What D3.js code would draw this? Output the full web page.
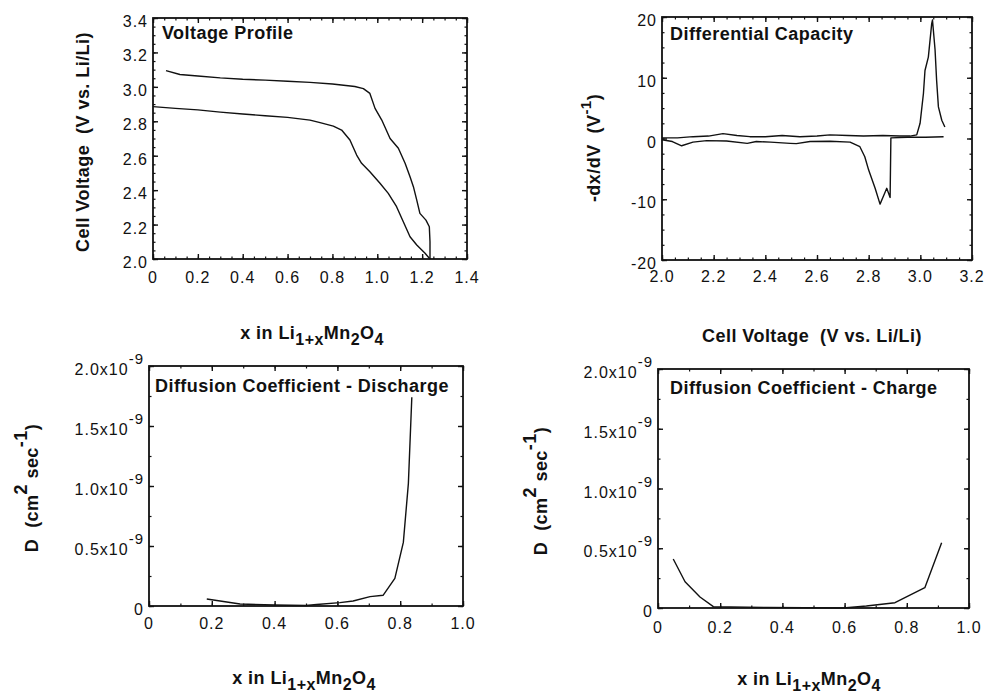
<!DOCTYPE html>
<html lang="en">
<head>
<meta charset="UTF-8">
<title>Li1+xMn2O4 - voltage, dx/dV and diffusion</title>
<script src="https://cdn.jsdelivr.net/npm/d3@7"></script>
<style>
    body { margin: 0; background: #fff; }
    svg { display: block; font-family: "Liberation Sans", Arial, Helvetica, sans-serif; }
    .tick-label { font-size: 16px; fill: #111; letter-spacing: 1px; }
    .panel-title, .axis-label { font-size: 18px; font-weight: bold; fill: #111; white-space: pre; letter-spacing: 0.45px; }
</style>
</head>
<body>
<svg id="chart" width="985" height="698"></svg>
<script>
// --- Voltage profile (V vs x) ---
const vpChargeX = [0.058, 0.12, 0.2, 0.3, 0.4, 0.5, 0.6, 0.7, 0.8, 0.9, 0.938, 0.967, 0.99, 1.02, 1.057, 1.094, 1.124, 1.146, 1.161, 1.176, 1.19, 1.217, 1.232, 1.235, 1.235];
const vpChargeV = [3.094, 3.072, 3.063, 3.052, 3.044, 3.039, 3.033, 3.026, 3.017, 3.002, 2.99, 2.962, 2.875, 2.807, 2.70, 2.643, 2.556, 2.478, 2.42, 2.342, 2.265, 2.226, 2.187, 2.10, 2.0];
const vpDischargeX = [0, 0.1, 0.2, 0.3, 0.4, 0.5, 0.6, 0.7, 0.745, 0.804, 0.841, 0.878, 0.908, 0.93, 0.967, 1.012, 1.049, 1.086, 1.116, 1.146, 1.176, 1.213, 1.235];
const vpDischargeV = [2.885, 2.875, 2.866, 2.853, 2.842, 2.832, 2.823, 2.807, 2.792, 2.772, 2.749, 2.691, 2.604, 2.556, 2.507, 2.44, 2.381, 2.304, 2.216, 2.129, 2.081, 2.033, 2.0];

// --- Differential capacity (-dx/dV vs V) ---
const dcChargeV = [2.0, 2.06, 2.12, 2.18, 2.236, 2.29, 2.34, 2.40, 2.465, 2.534, 2.60, 2.65, 2.72, 2.78, 2.855, 2.92, 2.96, 2.986, 2.999, 3.012, 3.018, 3.031, 3.044, 3.047, 3.057, 3.063, 3.07, 3.083, 3.095];
const dcChargeY = [0.1, 0.1, 0.3, 0.4, 0.8, 0.5, 0.3, 0.3, 0.5, 0.3, 0.4, 0.6, 0.5, 0.4, 0.5, 0.4, 0.4, 0.6, 2.5, 7.4, 11.2, 13.4, 18.9, 19.5, 14.6, 9.6, 5.2, 3.0, 1.9];
const dcDischargeV = [2.0, 2.04, 2.076, 2.12, 2.173, 2.25, 2.33, 2.365, 2.42, 2.496, 2.52, 2.573, 2.65, 2.728, 2.766, 2.785, 2.80, 2.825, 2.844, 2.857, 2.87, 2.883, 2.886, 2.95, 3.02, 3.09];
const dcDischargeY = [-0.2, -0.5, -1.2, -0.6, -0.35, -0.4, -0.8, -0.5, -0.6, -0.8, -0.85, -0.5, -0.45, -0.6, -1.35, -3.0, -5.2, -8.2, -10.8, -9.5, -8.2, -9.7, 0.1, 0.2, 0.2, 0.3];

// --- Diffusion coefficient, units of 1e-9 cm2/s ---
const dDischargeX = [0.184, 0.29, 0.4, 0.5, 0.534, 0.608, 0.65, 0.704, 0.746, 0.783, 0.81, 0.826, 0.837];
const dDischargeD = [0.058, 0.017, 0.008, 0.004, 0.012, 0.028, 0.042, 0.078, 0.09, 0.23, 0.53, 1.02, 1.74];
const dChargeX = [0.049, 0.087, 0.135, 0.178, 0.35, 0.596, 0.67, 0.762, 0.858, 0.912];
const dChargeD = [0.41, 0.22, 0.092, 0.011, 0.005, 0.0, 0.017, 0.044, 0.17, 0.546];

// --- tick values / labels ---
const vpXTicks = [0, 0.2, 0.4, 0.6, 0.8, 1.0, 1.2, 1.4];
const vpXLabels = ['0', '0.2', '0.4', '0.6', '0.8', '1.0', '1.2', '1.4'];
const vpYTicks = [2.0, 2.2, 2.4, 2.6, 2.8, 3.0, 3.2, 3.4];
const vpYLabels = ['2.0', '2.2', '2.4', '2.6', '2.8', '3.0', '3.2', '3.4'];
const dcXTicks = [2.0, 2.2, 2.4, 2.6, 2.8, 3.0, 3.2];
const dcXLabels = ['2.0', '2.2', '2.4', '2.6', '2.8', '3.0', '3.2'];
const dcYTicks = [-20, -10, 0, 10, 20];
const dcYLabels = ['-20', '-10', '0', '10', '20'];
const dXTicks = [0, 0.2, 0.4, 0.6, 0.8, 1.0];
const dXLabels = ['0', '0.2', '0.4', '0.6', '0.8', '1.0'];
const dYTicks = [0, 0.5, 1.0, 1.5, 2.0];
const dYLabels = ['0', '0.5x10', '1.0x10', '1.5x10', '2.0x10'];
const dYExp = ['', '-9', '-9', '-9', '-9'];

const svg = d3.select('#chart');

// one boxed panel: frame, inward ticks on all sides, tick labels, curves
function drawPanel(cfg) {
    const g = svg.append('g')
        .attr('transform', `translate(${cfg.left},${cfg.top})`);

    const x = d3.scaleLinear().domain(cfg.xDomain).range([0, cfg.width]);
    const y = d3.scaleLinear().domain(cfg.yDomain).range([cfg.height, 0]);

    const xMinor = d3.range(cfg.xDomain[0], cfg.xDomain[1] + 1e-9, cfg.xMinor);
    const yMinor = d3.range(cfg.yDomain[0], cfg.yDomain[1] + 1e-9, cfg.yMinor);

    const tickSets = [
        { axis: d3.axisBottom(x), pos: `translate(0,${cfg.height})`, minor: xMinor, major: cfg.xTicks },
        { axis: d3.axisTop(x), pos: 'translate(0,0)', minor: xMinor, major: cfg.xTicks },
        { axis: d3.axisLeft(y), pos: 'translate(0,0)', minor: yMinor, major: cfg.yTicks },
        { axis: d3.axisRight(y), pos: `translate(${cfg.width},0)`, minor: yMinor, major: cfg.yTicks }
    ];
    tickSets.forEach(t => {
        g.append('g').attr('transform', t.pos)
            .call(t.axis.tickValues(t.minor).tickSize(-2.5).tickFormat(''))
            .call(a => a.select('.domain').remove())
            .selectAll('line').attr('stroke', '#111').attr('stroke-width', 1.2);
        g.append('g').attr('transform', t.pos)
            .call(t.axis.tickValues(t.major).tickSize(-5).tickFormat(''))
            .call(a => a.select('.domain').remove())
            .selectAll('line').attr('stroke', '#111').attr('stroke-width', 1.4);
    });

    // frame
    g.append('rect')
        .attr('width', cfg.width)
        .attr('height', cfg.height)
        .attr('fill', 'none')
        .attr('stroke', '#111')
        .attr('stroke-width', 1.8);

    // x tick labels
    g.selectAll('.x-label')
        .data(cfg.xTicks)
        .enter()
        .append('text')
        .attr('class', 'tick-label')
        .attr('x', d => x(d))
        .attr('y', cfg.height + cfg.xLabelGap)
        .attr('text-anchor', 'middle')
        .text((d, i) => cfg.xLabels[i]);

    // y tick labels (with optional exponent)
    g.selectAll('.y-label')
        .data(cfg.yTicks)
        .enter()
        .append('text')
        .attr('class', 'tick-label')
        .attr('x', -cfg.yLabelGap)
        .attr('y', d => y(d) + 9)
        .attr('text-anchor', 'end')
        .each(function(d, i) {
            const t = d3.select(this);
            t.append('tspan').text(cfg.yLabels[i]);
            if (cfg.yExp && cfg.yExp[i]) {
                t.append('tspan').attr('dy', -11).attr('font-size', 15).text(cfg.yExp[i]);
            }
        });

    // curves
    const line = d3.line().x(d => x(d[0])).y(d => y(d[1]));
    cfg.series.forEach(s => {
        g.append('path')
            .datum(s[0].map((v, i) => [v, s[1][i]]))
            .attr('d', line)
            .attr('fill', 'none')
            .attr('stroke', '#111')
            .attr('stroke-width', 1.4)
            .attr('stroke-linejoin', 'round');
    });

    // title inside the box
    g.append('text')
        .attr('class', 'panel-title')
        .attr('x', cfg.titleX)
        .attr('y', cfg.titleY)
        .text(cfg.title);

    return g;
}

// text built from [string, shift, size] parts; shift >0 is subscript, <0 superscript
function richText(parent, parts, attrs) {
    const t = parent.append('text').attr('class', 'axis-label');
    Object.entries(attrs).forEach(([k, v]) => t.attr(k, v));
    let cur = 0;
    parts.forEach(([str, shift, size]) => {
        const sp = t.append('tspan').attr('dy', shift - cur).text(str);
        if (size) sp.attr('font-size', size);
        cur = shift;
    });
    return t;
}

const xLiLabel = [['x in Li', 0], ['1+x', 6, 16], ['Mn', 0], ['2', 6, 16], ['O', 0], ['4', 6, 16]];

// Panel 1: voltage profile
drawPanel({
    left: 153, top: 18, width: 314, height: 241,
    xDomain: [0, 1.4], yDomain: [2.0, 3.4], xMinor: 0.05, yMinor: 0.05,
    xTicks: vpXTicks, xLabels: vpXLabels, yTicks: vpYTicks, yLabels: vpYLabels,
    xLabelGap: 24, yLabelGap: 5,
    title: 'Voltage Profile', titleX: 9, titleY: 21,
    series: [[vpChargeX, vpChargeV], [vpDischargeX, vpDischargeV]]
});

// Panel 2: differential capacity
drawPanel({
    left: 662, top: 17, width: 310, height: 243,
    xDomain: [2.0, 3.2], yDomain: [-20, 20], xMinor: 0.05, yMinor: 2.5,
    xTicks: dcXTicks, xLabels: dcXLabels, yTicks: dcYTicks, yLabels: dcYLabels,
    xLabelGap: 22, yLabelGap: 5,
    title: 'Differential Capacity', titleX: 8, titleY: 23,
    series: [[dcChargeV, dcChargeY], [dcDischargeV, dcDischargeY]]
});

// Panel 3: diffusion coefficient on discharge
drawPanel({
    left: 149, top: 366, width: 314, height: 240,
    xDomain: [0, 1.0], yDomain: [0, 2.0], xMinor: 0.1, yMinor: 0.25,
    xTicks: dXTicks, xLabels: dXLabels, yTicks: dYTicks, yLabels: dYLabels, yExp: dYExp,
    xLabelGap: 23, yLabelGap: 5,
    title: 'Diffusion Coefficient - Discharge', titleX: 6, titleY: 26,
    series: [[dDischargeX, dDischargeD]]
});

// Panel 4: diffusion coefficient on charge
drawPanel({
    left: 658, top: 369, width: 311, height: 239,
    xDomain: [0, 1.0], yDomain: [0, 2.0], xMinor: 0.1, yMinor: 0.25,
    xTicks: dXTicks, xLabels: dXLabels, yTicks: dYTicks, yLabels: dYLabels, yExp: dYExp,
    xLabelGap: 25, yLabelGap: 5,
    title: 'Diffusion Coefficient - Charge', titleX: 12, titleY: 25,
    series: [[dChargeX, dChargeD]]
});

// axis titles
richText(svg, xLiLabel, { x: 312, y: 339, 'text-anchor': 'middle' });
richText(svg, [['Cell Voltage  (V vs. Li/Li)', 0]], { x: 812, y: 342, 'text-anchor': 'middle' });
richText(svg, xLiLabel, { x: 304, y: 684, 'text-anchor': 'middle' });
richText(svg, xLiLabel, { x: 809, y: 685, 'text-anchor': 'middle' });

richText(svg, [['Cell Voltage  (V vs. Li/Li)', 0]],
    { 'text-anchor': 'middle', transform: 'translate(89,142) rotate(-90)' });
richText(svg, [['-dx/dV  (V', 0], ['-1', -9, 15], [')', 0]],
    { 'text-anchor': 'middle', transform: 'translate(600,148) rotate(-90)' });
richText(svg, [['D  (cm', 0], ['2', -11], [' sec', 0], ['-1', -11], [')', 0]],
    { 'text-anchor': 'middle', transform: 'translate(38,488) rotate(-90)' });
richText(svg, [['D  (cm', 0], ['2', -11], [' sec', 0], ['-1', -11], [')', 0]],
    { 'text-anchor': 'middle', transform: 'translate(547,491) rotate(-90)' });
</script>
</body>
</html>
